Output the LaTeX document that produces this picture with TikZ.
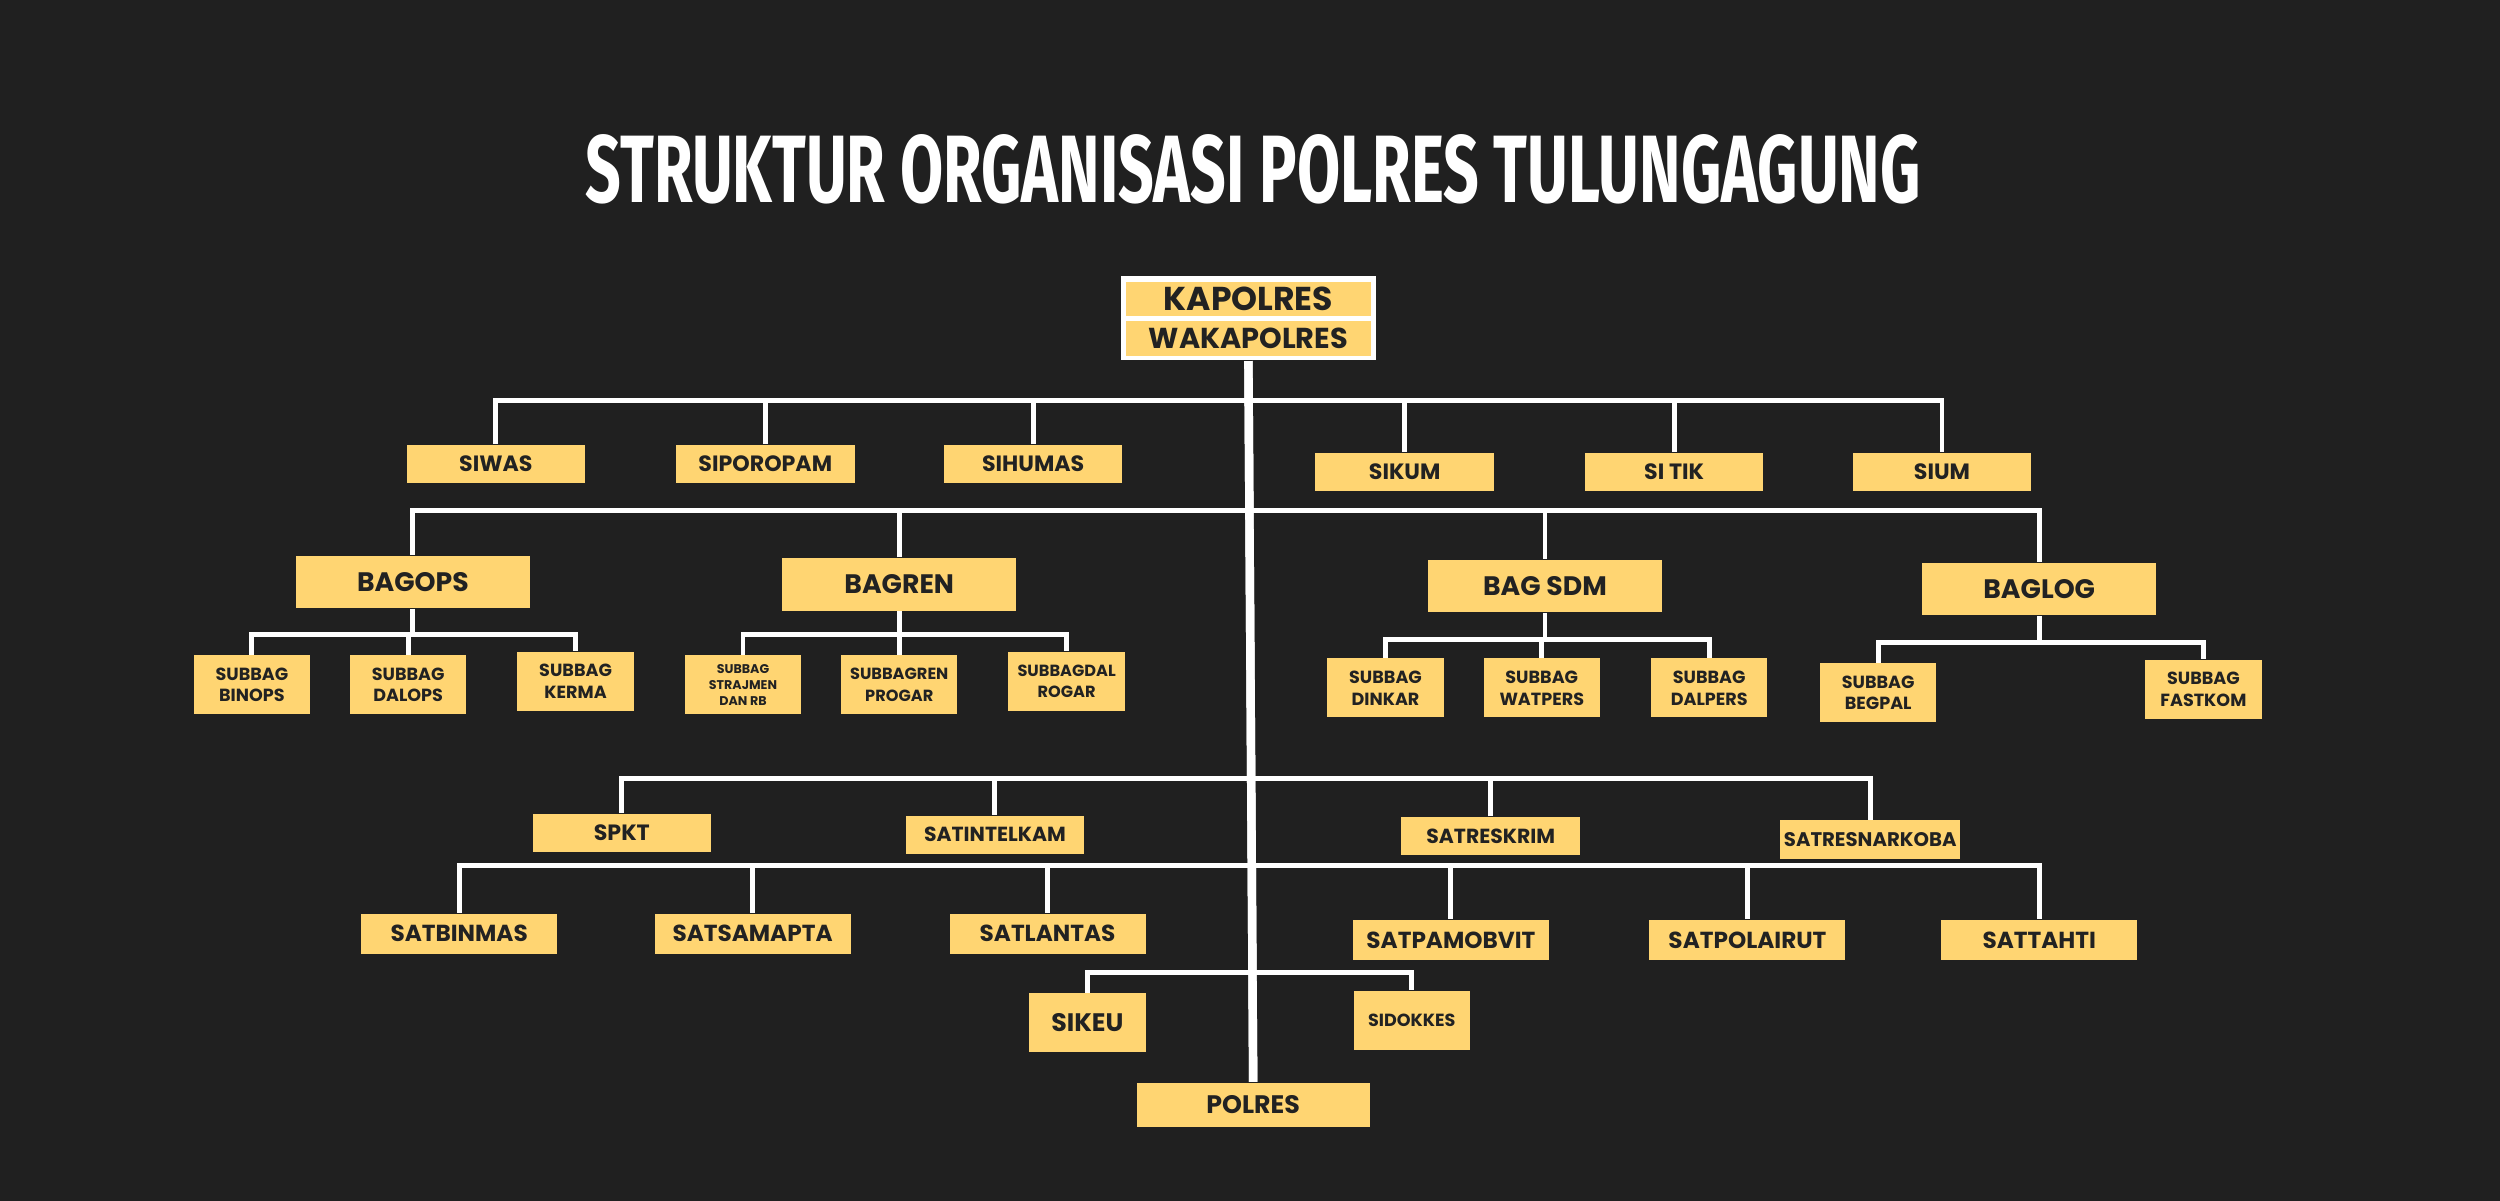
\documentclass[tikz,border=0pt]{standalone}
\usepackage{fontspec}
\setmainfont{Poppins}
\newfontfamily\titlefont{Fira Sans}
\definecolor{bgc}{HTML}{202020}
\definecolor{boxc}{HTML}{FFD572}
\definecolor{txc}{HTML}{222222}
\tikzset{
 ln/.style={draw=white,line width=1.4pt},
 trunk/.style={draw=white,line width=2.4pt},
 bx/.style={fill=boxc,text=txc,font=\bfseries,inner sep=1pt,align=center},
 smallbox/.style={bx,minimum width=1.786cm,minimum height=0.383cm,font=\bfseries\fontsize{6.3}{7}\selectfont},
 subbox/.style={bx,minimum width=1.164cm,minimum height=0.59cm,font=\bfseries\fontsize{5}{6.2}\selectfont},
 tinybox/.style={bx,minimum width=1.164cm,minimum height=0.59cm,font=\bfseries\fontsize{3.6}{4.6}\selectfont},
 bagbox/.style={bx,minimum width=2.344cm,minimum height=0.526cm,font=\bfseries\fontsize{7.6}{9}\selectfont},
 satbox/.style={bx,minimum width=1.96cm,minimum height=0.40cm,font=\bfseries\fontsize{6.6}{8}\selectfont},
}
\begin{document}
\begin{tikzpicture}[x=0.015944cm,y=-0.015944cm]
\fill[bgc] (0,0) rectangle (1568,753);
\node[text=white,font=\titlefont\bfseries] (title) at (786,106) {\resizebox{13.35cm}{0.68cm}{STRUKTUR ORGANISASI POLRES TULUNGAGUNG}};
% head
\node[fill=white,minimum width=2.55cm,minimum height=0.845cm,inner sep=0] (head) at (783,199.5) {};
\node[bx,minimum width=2.455cm,minimum height=0.335cm,font=\bfseries\fontsize{9.4}{10}\selectfont] (kap) at (783,187.5) {KAPOLRES};
\node[bx,minimum width=2.455cm,minimum height=0.35cm,font=\bfseries\fontsize{8.2}{9}\selectfont] (wak) at (783,212) {WAKAPOLRES};
\node[bagbox,minimum width=2.33cm,minimum height=0.446cm,font=\bfseries\fontsize{7.2}{8}\selectfont] (polres) at (786,693) {POLRES};
\draw[trunk] (head.south) -- (polres.north);
% level 1
\node[smallbox] (siwas) at (311,291) {SIWAS};
\node[smallbox] (sipor) at (480,291) {SIPOROPAM};
\node[smallbox] (sihum) at (648,291) {SIHUMAS};
\node[smallbox] (sikum) at (881,296) {SIKUM};
\node[smallbox] (sitik) at (1050,296) {SI TIK};
\node[smallbox] (sium) at (1218,296) {SIUM};
\coordinate (h1) at (783,251);
\draw[ln] (siwas.north) -- (siwas.north |- h1) -- (sium.north |- h1) -- (sium.north);
\foreach \n in {sipor,sihum,sikum,sitik}{\draw[ln] (\n.north) -- (\n.north |- h1);}
% level 2
\node[bagbox] (bagops) at (259,365) {BAGOPS};
\node[bagbox] (bagren) at (564,366.5) {BAGREN};
\node[bagbox] (bagsdm) at (969,367.5) {BAG SDM};
\node[bagbox] (baglog) at (1279,369.5) {BAGLOG};
\coordinate (h2) at (783,320);
\draw[ln] (bagops.north) -- (bagops.north |- h2) -- (baglog.north |- h2) -- (baglog.north);
\foreach \n in {bagren,bagsdm}{\draw[ln] (\n.north) -- (\n.north |- h2);}
% subbags
\node[subbox] (binops) at (158,429.5) {SUBBAG\\BINOPS};
\node[subbox] (dalops) at (256,429.5) {SUBBAG\\DALOPS};
\node[subbox] (kerma) at (361,427.5) {SUBBAG\\KERMA};
\draw[ln] (bagops.south) -- (bagops.south |- 0,398);
\draw[ln] (binops.north) -- (binops.north |- 0,398) -- (kerma.north |- 0,398) -- (kerma.north);
\draw[ln] (dalops.north) -- (dalops.north |- 0,398);
\node[tinybox] (straj) at (466,429.5) {SUBBAG\\STRAJMEN\\DAN RB};
\node[subbox,font=\bfseries\fontsize{4.6}{6}\selectfont] (progar) at (564,429.5) {SUBBAGREN\\PROGAR};
\node[subbox,font=\bfseries\fontsize{4.6}{6}\selectfont] (rogar) at (669,427.5) {SUBBAGDAL\\ROGAR};
\draw[ln] (bagren.south) -- (bagren.south |- 0,398);
\draw[ln] (straj.north) -- (straj.north |- 0,398) -- (rogar.north |- 0,398) -- (rogar.north);
\draw[ln] (progar.north) -- (progar.north |- 0,398);
\node[subbox] (dinkar) at (869,431.5) {SUBBAG\\DINKAR};
\node[subbox] (watpers) at (967,431.5) {SUBBAG\\WATPERS};
\node[subbox] (dalpers) at (1072,431.5) {SUBBAG\\DALPERS};
\draw[ln] (bagsdm.south) -- (bagsdm.south |- 0,401);
\draw[ln] (dinkar.north) -- (dinkar.north |- 0,401) -- (dalpers.north |- 0,401) -- (dalpers.north);
\draw[ln] (watpers.north) -- (watpers.north |- 0,401);
\node[subbox] (begpal) at (1178,434.5) {SUBBAG\\BEGPAL};
\node[subbox] (fastkom) at (1382,432.5) {SUBBAG\\FASTKOM};
\draw[ln] (baglog.south) -- (baglog.south |- 0,403);
\draw[ln] (begpal.north) -- (begpal.north |- 0,403) -- (fastkom.north |- 0,403) -- (fastkom.north);
% level 3
\node[smallbox] (spkt) at (390,522.5) {SPKT};
\node[smallbox,font=\bfseries\fontsize{5.8}{7}\selectfont] (satint) at (624,523.5) {SATINTELKAM};
\node[smallbox,font=\bfseries\fontsize{5.8}{7}\selectfont] (satres) at (935,524.5) {SATRESKRIM};
\node[smallbox,font=\bfseries\fontsize{5.6}{7}\selectfont] (satnar) at (1173,526.5) {SATRESNARKOBA};
\coordinate (h3) at (783,488);
\draw[ln] (spkt.north) -- (spkt.north |- h3) -- (satnar.north |- h3) -- (satnar.north);
\foreach \n in {satint,satres}{\draw[ln] (\n.north) -- (\n.north |- h3);}
% level 4
\node[satbox] (binmas) at (288,585.5) {SATBINMAS};
\node[satbox] (samapta) at (472,585.5) {SATSAMAPTA};
\node[satbox] (lantas) at (657,585.5) {SATLANTAS};
\node[satbox] (pamob) at (910,589.5) {SATPAMOBVIT};
\node[satbox] (polair) at (1096,589.5) {SATPOLAIRUT};
\node[satbox] (tahti) at (1279,589.5) {SATTAHTI};
\coordinate (h4) at (783,543);
\draw[ln] (binmas.north) -- (binmas.north |- h4) -- (tahti.north |- h4) -- (tahti.north);
\foreach \n in {samapta,lantas,pamob,polair}{\draw[ln] (\n.north) -- (\n.north |- h4);}
% level 5
\node[subbox,font=\bfseries\fontsize{7.2}{8}\selectfont] (sikeu) at (682,641.5) {SIKEU};
\node[subbox,font=\bfseries\fontsize{5}{6}\selectfont] (sidok) at (885.5,640) {SIDOKKES};
\coordinate (h5) at (783,610);
\draw[ln] (sikeu.north) -- (sikeu.north |- h5) -- (sidok.north |- h5) -- (sidok.north);
\draw[trunk] (head.south) -- (polres.north);
\end{tikzpicture}
\end{document}
